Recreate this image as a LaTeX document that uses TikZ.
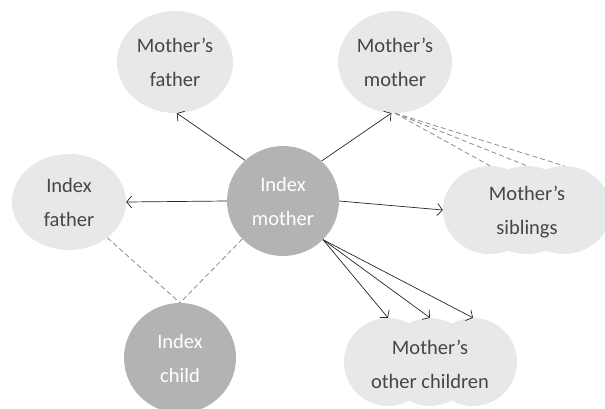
\documentclass[tikz,border=0pt]{standalone}
\usepackage{fontspec}
\setmainfont{Carlito}
\usetikzlibrary{shapes.geometric,arrows.meta}
\definecolor{lightnode}{RGB}{231,232,233}
\definecolor{darknode}{RGB}{178,179,181}
\definecolor{txtgray}{RGB}{70,70,70}
\definecolor{dashgray}{RGB}{140,140,140}
\tikzset{
  person/.style={ellipse, fill=lightnode, draw=none, inner sep=0pt, text=txtgray,
    align=center, font=\fontsize{20.5}{34}\selectfont},
  indexp/.style={person, fill=darknode, text=white},
  blob/.style={ellipse, fill=lightnode, draw=none, inner sep=0pt},
  lbl/.style={text=txtgray, align=center, font=\fontsize{20.5}{34}\selectfont},
  rel/.style={draw=black!85, line width=0.7pt, -{Straight Barb[length=5pt,width=12pt]}},
  kin/.style={draw=dashgray, line width=0.8pt, dash pattern=on 5pt off 3pt},
}
\begin{document}
\begin{tikzpicture}[x=1pt,y=-1pt]
\useasboundingbox (0,0) rectangle (605,408);
\begin{scope}
\clip (0,0) rectangle (605,408);
% plain nodes
\node[person, minimum width=116pt, minimum height=102pt] (mf) at (175,62) {Mother’s\\father};
\node[person, minimum width=114pt, minimum height=102pt] (mm) at (395,62) {Mother’s\\mother};
\node[person, minimum width=114pt, minimum height=96pt] (if) at (69,202) {Index\\father};
\node[indexp, minimum width=112pt, minimum height=110pt] (im) at (283,201) {Index\\mother};
\node[indexp, minimum width=112pt, minimum height=110pt] (ic) at (180,358) {Index\\child};
% siblings group
\node[blob, minimum width=94pt, minimum height=88pt] (s3) at (564,210) {};
\node[blob, minimum width=94pt, minimum height=88pt] (s2) at (527,210) {};
\node[blob, minimum width=94pt, minimum height=88pt] (s1) at (490,210) {};
\node[lbl] (sibl) at (527,212) {Mother’s\\siblings};
% other children group
\node[blob, minimum width=88pt, minimum height=88pt] (c3) at (473,362) {};
\node[blob, minimum width=88pt, minimum height=88pt] (c2) at (430,362) {};
\node[blob, minimum width=88pt, minimum height=88pt] (c1) at (388,362) {};
\node[lbl] (chl) at (430,364) {Mother’s\\other children};
\end{scope}
% arrows
\draw[rel] (im.133) -- (mf.-88);
\draw[rel] (im.46) -- (mm.-94);
\draw[rel] (im.west) -- (if.east);
\draw[rel] (im.east) -- (s1.west);
\draw[rel] (im.-44) -- (c1.north);
\draw[rel] (im.-44) -- (c2.north);
\draw[rel] (im.-44) -- (c3.north);
% dashed kinship
\draw[kin] (if.-43) -- (ic.north);
\draw[kin] (im.-137) -- (ic.north);
\draw[kin] (mm.-90) -- (s1.north);
\draw[kin] (mm.-90) -- (s2.north);
\draw[kin] (mm.-90) -- (s3.north);
\end{tikzpicture}
\end{document}
